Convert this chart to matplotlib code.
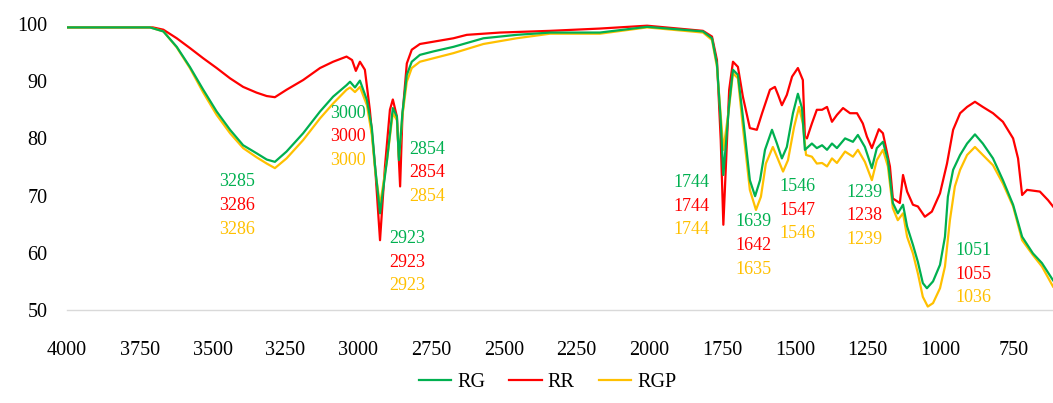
import matplotlib
matplotlib.use('Agg')
import matplotlib.pyplot as plt

# wavenumber (cm-1) / transmittance (%)
rg_wn = [4000, 3715, 3669, 3623, 3578, 3532, 3486, 3440, 3395, 3349,
         3314, 3286, 3246, 3189, 3131, 3086, 3040, 3028, 3011, 2994,
         2970, 2953, 2942, 2925, 2901, 2881, 2867, 2860, 2848, 2833,
         2816, 2788, 2742, 2673, 2570, 2456, 2341, 2170, 2008, 1816,
         1785, 1768, 1755, 1746,
         1726, 1713, 1696, 1679, 1655, 1637, 1620, 1603, 1579, 1562, 1545, 1528, 1507, 1490,
         1476, 1466, 1442, 1425, 1407, 1390, 1373, 1356, 1328, 1301, 1284, 1260, 1236, 1219,
         1198, 1181, 1164, 1147, 1129, 1115, 1095, 1078, 1061, 1047, 1026, 1002, 985, 975,
         957, 933, 909, 882, 855, 820, 786, 751, 720, 683, 652, 614]
rg_t = [99.4, 99.4, 98.7, 96.0, 92.5, 88.5, 84.7, 81.5, 78.8, 77.4,
        76.3, 75.9, 77.7, 80.9, 84.7, 87.3, 89.3, 89.9, 88.9, 90.1,
        86.7, 81.8, 75.1, 66.9, 76.2, 85.3, 83.8, 76.2, 84.5, 91.1,
        93.4, 94.6, 95.2, 96.0, 97.5, 98.1, 98.5, 98.5, 99.5, 98.7,
        97.5, 93.0, 83.0, 73.6,
        86.0, 92.0, 91.1, 83.8, 72.7, 69.9, 72.7, 78.0, 81.5, 79.1, 76.5, 78.5, 84.4, 87.8,
        85.3, 78.0, 79.1, 78.3, 78.8, 78.0, 79.1, 78.3, 80.0, 79.4, 80.6, 78.5, 74.8, 78.3,
        79.4, 76.2, 68.7, 66.9, 68.4, 64.6, 61.4, 58.4, 54.7, 53.8, 55.0, 57.9, 62.8, 69.8,
        74.5, 77.1, 79.1, 80.7, 79.1, 76.5, 72.7, 68.4, 62.8, 59.9, 58.2, 55.2]

rr_wn = [4000, 3705, 3669, 3623, 3578, 3532, 3486, 3440, 3395, 3349,
         3314, 3286, 3246, 3189, 3131, 3086, 3040, 3021, 3008, 2994,
         2977, 2960, 2942, 2925, 2908, 2891, 2881, 2867, 2856, 2848,
         2833, 2816, 2788, 2742, 2673, 2627, 2513, 2341, 2170, 2008,
         1816, 1785, 1768, 1755, 1746,
         1726, 1713, 1696, 1679, 1655, 1631, 1613, 1586, 1569, 1558, 1545, 1528, 1510, 1490,
         1473, 1466, 1459, 1442, 1425, 1407, 1390, 1373, 1356, 1335, 1311, 1287, 1267, 1253,
         1236, 1212, 1198, 1174, 1164, 1140, 1129, 1115, 1095, 1078, 1054, 1030, 1002, 978,
         957, 933, 909, 882, 855, 820, 786, 751, 734, 720, 703, 659, 631, 614]
rr_t = [99.4, 99.4, 99.0, 97.5, 95.8, 94.0, 92.3, 90.5, 89.0, 88.0,
        87.4, 87.2, 88.5, 90.2, 92.3, 93.4, 94.3, 93.7, 91.8, 93.4,
        92.0, 85.0, 75.1, 62.2, 75.1, 85.0, 86.8, 83.8, 71.6, 84.0,
        93.1, 95.5, 96.5, 96.9, 97.5, 98.1, 98.5, 98.8, 99.2, 99.7,
        98.8, 97.8, 93.7, 79.7, 64.9,
        88.5, 93.4, 92.5, 87.3, 81.8, 81.5, 84.4, 88.5, 89.0, 87.6, 85.8, 87.6, 90.8, 92.3,
        90.2, 80.3, 80.0, 82.6, 85.0, 85.0, 85.5, 82.9, 84.1, 85.3, 84.4, 84.4, 82.6, 80.3,
        78.3, 81.6, 80.9, 75.1, 69.5, 68.7, 73.6, 70.7, 68.4, 68.1, 66.3, 67.2, 70.4, 75.6,
        81.5, 84.4, 85.5, 86.4, 85.5, 84.4, 82.9, 80.0, 76.5, 70.1, 71.0, 70.7, 69.2, 68.1]

rgp_wn = [4000, 3715, 3669, 3623, 3578, 3532, 3486, 3440, 3395, 3349,
          3314, 3286, 3246, 3189, 3131, 3086, 3040, 3028, 3011, 2994,
          2970, 2953, 2942, 2925, 2901, 2881, 2867, 2860, 2848, 2833,
          2816, 2788, 2742, 2673, 2570, 2456, 2341, 2170, 2008, 1816,
          1785, 1768, 1755, 1746,
          1726, 1713, 1696, 1679, 1655, 1634, 1617, 1600, 1576, 1562, 1541, 1524, 1503, 1486,
          1473, 1462, 1442, 1425, 1407, 1390, 1373, 1356, 1328, 1301, 1284, 1260, 1236, 1219,
          1198, 1181, 1164, 1147, 1129, 1115, 1095, 1078, 1061, 1044, 1026, 1002, 985, 968,
          951, 933, 909, 882, 855, 820, 786, 751, 720, 683, 652, 614]
rgp_t = [99.4, 99.4, 98.7, 95.9, 92.3, 88.0, 84.1, 80.9, 78.3, 76.7,
         75.6, 74.8, 76.5, 79.7, 83.5, 86.1, 88.5, 88.9, 88.1, 89.0,
         85.8, 80.6, 74.5, 68.4, 76.2, 84.4, 83.2, 76.7, 84.0, 89.9,
         92.3, 93.4, 94.0, 94.9, 96.5, 97.5, 98.3, 98.3, 99.4, 98.5,
         97.2, 92.5, 84.0, 78.0,
         85.5, 91.4, 90.5, 82.0, 71.0, 67.5, 69.8, 75.6, 78.5, 76.8, 74.2, 76.2, 82.0, 85.5,
         82.6, 77.1, 76.8, 75.6, 75.7, 75.1, 76.5, 75.7, 77.7, 76.8, 78.0, 75.9, 72.7, 76.2,
         78.0, 75.1, 67.8, 65.7, 66.9, 62.8, 59.9, 56.4, 52.3, 50.6, 51.2, 53.8, 57.6, 65.7,
         71.6, 74.5, 77.1, 78.5, 77.1, 75.3, 72.1, 68.1, 62.2, 59.6, 57.6, 54.1]

# peak labels (RG, RR, RGP)
rg_peaks = ['3285', '3000', '2854', '2923', '1744', '1639', '1546', '1239', '1051']
rr_peaks = ['3286', '3000', '2854', '2923', '1744', '1642', '1547', '1238', '1055']
rgp_peaks = ['3286', '3000', '2854', '2923', '1744', '1635', '1546', '1239', '1036']

x_ticks = [4000, 3750, 3500, 3250, 3000, 2750, 2500, 2250, 2000, 1750, 1500, 1250, 1000, 750]
y_ticks = [50, 60, 70, 80, 90, 100]

GREEN = '#00B050'
RED = '#FF0000'
YELLOW = '#FFC000'

plt.rcParams['font.family'] = ['Liberation Serif', 'DejaVu Serif']

fig = plt.figure(figsize=(10.53, 4.03), dpi=100)
ax = fig.add_axes([0.0636, 0.2308, 0.9364, 0.7097])

ax.plot(rg_wn, rg_t, color=GREEN, lw=1.6, label='RG', zorder=3, solid_joinstyle='round')
ax.plot(rr_wn, rr_t, color=RED, lw=1.6, label='RR', zorder=2, solid_joinstyle='round')
ax.plot(rgp_wn, rgp_t, color=YELLOW, lw=1.6, label='RGP', zorder=2.5, solid_joinstyle='round')

# label positions (x, y of top label), hand placed like in the source
label_pos = [(3416, 72.4), (3035, 84.4), (2764, 78.1), (2832, 62.5), (1854, 72.3),
             (1644, 65.4), (1493, 71.6), (1260, 70.6), (886, 60.4)]
step = 4.15
for i, (lx, ly) in enumerate(label_pos):
    for j, (txt, col) in enumerate([(rg_peaks[i], GREEN), (rr_peaks[i], RED), (rgp_peaks[i], YELLOW)]):
        ax.text(lx, ly - j * step, txt, color=col, fontsize=13, ha='center', va='center', zorder=4)

ax.set_xlim(4000, 614)
ax.set_ylim(50, 100)
ax.set_xticks(x_ticks)
ax.set_yticks(y_ticks)
ax.tick_params(axis='both', length=0, labelsize=14.5)
ax.tick_params(axis='x', pad=22)
ax.tick_params(axis='y', pad=14)
for s in ['top', 'right', 'left']:
    ax.spines[s].set_visible(False)
ax.spines['bottom'].set_color('#d9d9d9')
ax.spines['bottom'].set_linewidth(1.0)

fig.legend(loc='center', bbox_to_anchor=(0.52, 0.05), ncol=3, frameon=False, fontsize=14.5,
           handlelength=1.6, handletextpad=0.3, columnspacing=1.2)

fig.savefig('out.png', dpi=100)
